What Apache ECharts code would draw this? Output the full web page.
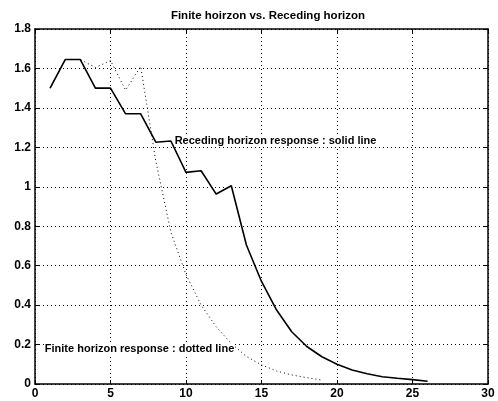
<!DOCTYPE html>
<html>
<head>
<meta charset="utf-8">
<script src="https://cdn.jsdelivr.net/npm/echarts@6/dist/echarts.min.js"></script>
<style>
  html, body { margin: 0; padding: 0; background: #fff; }
  #chart { width: 498px; height: 401px; }
</style>
</head>
<body>
<div id="chart"></div>
<script>
// time steps
var steps = [1, 2, 3, 4, 5, 6, 7, 8, 9, 10, 11, 12, 13, 14, 15, 16, 17, 18, 19, 20, 21, 22, 23, 24, 25, 26]
// receding horizon response (solid)
var receding = [1.5, 1.645, 1.645, 1.5, 1.5, 1.37, 1.37, 1.226, 1.232, 1.073, 1.081, 0.963, 1.005, 0.705,
  0.52, 0.375, 0.265, 0.19, 0.138, 0.1, 0.071, 0.052, 0.037, 0.029, 0.022, 0.014]
// finite horizon response (dotted)
var finiteSteps = [1, 2, 3, 4, 5, 6, 7, 8, 9, 10, 11, 12, 13, 14, 15, 16, 17, 18, 19]
var finite = [1.5, 1.645, 1.645, 1.605, 1.64, 1.49, 1.61, 1.13, 0.77, 0.555, 0.4, 0.29, 0.205, 0.14,
  0.097, 0.066, 0.046, 0.032, 0.02]
// text notes [x, y, text]
var notes = [
  [9.25, 1.233, 'Receding horizon response : solid line'],
  [0.65, 0.18, 'Finite horizon response : dotted line']
]
var xTicks = { min: 0, max: 30, interval: 5 }
var yTicks = { min: 0, max: 1.8, interval: 0.2 }

var chart = echarts.init(document.getElementById('chart'))
var font = 'Liberation Sans, Arial, sans-serif'

function pairs(xs, ys) {
  return xs.map(function (x, i) { return [x, ys[i]] })
}

var gridLine = { show: true, lineStyle: { color: '#000', type: [1, 3], width: 1 } }

var option = {
  animation: false,
  backgroundColor: '#fff',
  title: {
    text: 'Finite hoirzon vs. Receding horizon',
    left: 263,
    textAlign: 'center',
    top: 5,
    textStyle: { fontFamily: font, fontSize: 11.5, fontWeight: 'bold', color: '#000' }
  },
  grid: { left: 35, right: 10, top: 29, bottom: 17 },
  xAxis: [{
    type: 'value', min: xTicks.min, max: xTicks.max, interval: xTicks.interval,
    axisLine: { show: true, onZero: false, lineStyle: { color: '#000', width: 1.5 } },
    axisTick: { show: true, inside: true, length: 4, lineStyle: { color: '#000' } },
    axisLabel: { color: '#000', fontFamily: font, fontSize: 12, fontWeight: 'bold', margin: 4 },
    splitLine: gridLine
  }, {
    type: 'value', position: 'top', min: xTicks.min, max: xTicks.max, interval: xTicks.interval,
    axisLine: { show: true, onZero: false, lineStyle: { color: '#000', width: 1.5 } },
    axisTick: { show: true, inside: true, length: 4, lineStyle: { color: '#000' } },
    axisLabel: { show: false }, splitLine: { show: false }
  }],
  yAxis: [{
    type: 'value', min: yTicks.min, max: yTicks.max, interval: yTicks.interval,
    axisLine: { show: true, onZero: false, lineStyle: { color: '#000', width: 1.5 } },
    axisTick: { show: true, inside: true, length: 4, lineStyle: { color: '#000' } },
    axisLabel: {
      color: '#000', fontFamily: font, fontSize: 12, fontWeight: 'bold', margin: 4,
      formatter: function (v) { return Number(v.toFixed(1)).toString() }
    },
    splitLine: gridLine
  }, {
    type: 'value', position: 'right', min: yTicks.min, max: yTicks.max, interval: yTicks.interval,
    axisLine: { show: true, onZero: false, lineStyle: { color: '#000', width: 1.5 } },
    axisTick: { show: true, inside: true, length: 4, lineStyle: { color: '#000' } },
    axisLabel: { show: false }, splitLine: { show: false }
  }],
  series: [
    {
      name: 'finite', type: 'line', data: pairs(finiteSteps, finite),
      showSymbol: false, symbol: 'none',
      lineStyle: { color: '#000', width: 1, type: [1, 3] },
      z: 2
    },
    {
      name: 'receding', type: 'line', data: pairs(steps, receding),
      showSymbol: false, symbol: 'none',
      lineStyle: { color: '#000', width: 1.6 },
      z: 3
    },
    {
      name: 'notes', type: 'scatter', data: notes,
      symbol: 'circle', symbolSize: 0,
      itemStyle: { color: '#000', opacity: 1 },
      silent: true,
      z: 4,
      label: {
        show: true, position: 'right', distance: 0,
        color: '#000', fontFamily: font, fontSize: 11, fontWeight: 'bold',
        backgroundColor: '#fff',
        formatter: function (p) { return p.value[2] }
      }
    }
  ]
}

chart.setOption(option)
</script>
</body>
</html>
